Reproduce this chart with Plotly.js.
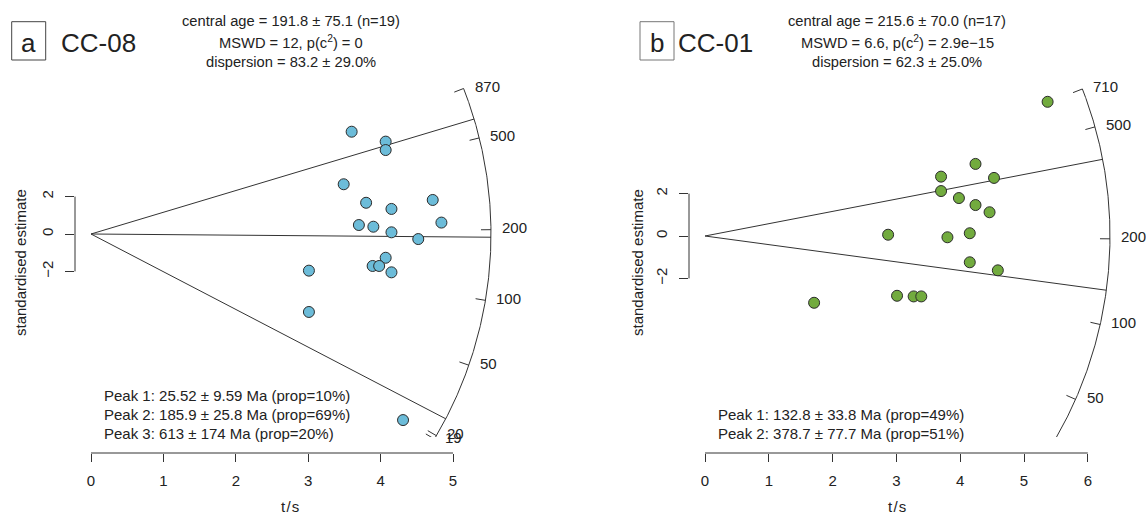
<!DOCTYPE html>
<html>
<head>
<meta charset="utf-8">
<script src="https://cdn.plot.ly/plotly-3.0.1.min.js"></script>
<style>
  html, body { margin: 0; padding: 0; background: #fff; }
  #plot { width: 1146px; height: 515px; }
</style>
</head>
<body>
<div id="plot"></div>
<script>
// ---------- CC-08 : radial plot coordinates of single-grain ages ----------
const ccA_ts = [3.60, 4.07, 4.07, 3.49, 3.80, 4.15, 4.72, 4.84, 3.70, 3.90,
                4.15, 4.52, 4.07, 3.89, 3.98, 4.15, 3.01, 3.01, 4.31];
const ccA_z  = [5.47, 4.94, 4.49, 2.66, 1.67, 1.34, 1.82, 0.61, 0.48, 0.39,
                0.09, -0.27, -1.27, -1.71, -1.71, -2.05, -1.96, -4.17, -9.95];
const ccA_scaleRefAge = 191.8;          // age of the horizontal ray
const ccA_peakAges = [25.52, 185.9, 613];
const ccA_scaleTicks = [20, 50, 100, 200, 500];
const ccA_scaleEnds = [19, 870];
const ccA_xTicks = [0, 1, 2, 3, 4, 5];
const ccA_stats = ['central age = 191.8 \u00b1 75.1 (n=19)',
                   'MSWD = 12, p(c<sup>2</sup>) = 0',
                   'dispersion = 83.2 \u00b1 29.0%'];
const ccA_peakText = ['Peak 1: 25.52 \u00b1 9.59 Ma (prop=10%)',
                      'Peak 2: 185.9 \u00b1 25.8 Ma (prop=69%)',
                      'Peak 3: 613 \u00b1 174 Ma (prop=20%)'];

// ---------- CC-01 ----------
const ccB_ts = [5.37, 4.24, 3.70, 4.53, 3.70, 3.98, 4.24, 4.46, 2.87, 3.80,
                4.15, 4.15, 4.59, 3.01, 3.27, 3.39, 1.71];
const ccB_z  = [6.33, 3.40, 2.80, 2.74, 2.12, 1.79, 1.46, 1.12, 0.06, -0.06,
                0.13, -1.24, -1.62, -2.82, -2.85, -2.85, -3.15];
const ccB_scaleRefAge = 204.5;
const ccB_peakAges = [132.8, 378.7];
const ccB_scaleTicks = [50, 100, 200, 500];
const ccB_scaleEnds = [32, 710];
const ccB_xTicks = [0, 1, 2, 3, 4, 5, 6];
const ccB_stats = ['central age = 215.6 \u00b1 70.0 (n=17)',
                   'MSWD = 6.6, p(c<sup>2</sup>) = 2.9e\u221215',
                   'dispersion = 62.3 \u00b1 25.0%'];
const ccB_peakText = ['Peak 1: 132.8 \u00b1 33.8 Ma (prop=49%)',
                      'Peak 2: 378.7 \u00b1 77.7 Ma (prop=51%)'];

const yTicks = [-2, 0, 2];
const yLabels = ['\u22122', '0', '2'];

// ---------- page geometry (pixels) ----------
const W = 1146, H = 515;
const FONT = 'Liberation Sans, Arial, Helvetica, sans-serif';
const INK = '#222';
const LINE = '#333';

const panels = [
  { key: 'a', name: 'CC-08', ts: ccA_ts, z: ccA_z, ref: ccA_scaleRefAge,
    peaks: ccA_peakAges, ticks: ccA_scaleTicks, ends: ccA_scaleEnds, endLabels: [true, true],
    xticks: ccA_xTicks, stats: ccA_stats, peakText: ccA_peakText,
    fill: '#6cbcd9', boxLine: '#444',
    ox: 91, oy: 234, sx: 72.4, sy: 18.7, k: 18.7 / 72.4, arc: 400,
    left: 75, right: 545, top: 78, clipBottom: 437, axisY: 453,
    box: [11.7, 21.7, 45.7, 60], nameX: 59, titleY: 43,
    statsX: 291, statsY: [21, 42, 62], peakX: 102, peakY: [395, 414, 433],
    xlabX: 290, ylabX: 20 },
  { key: 'b', name: 'CC-01', ts: ccB_ts, z: ccB_z, ref: ccB_scaleRefAge,
    peaks: ccB_peakAges, ticks: ccB_scaleTicks, ends: ccB_scaleEnds, endLabels: [false, true],
    xticks: ccB_xTicks, stats: ccB_stats, peakText: ccB_peakText,
    fill: '#72ab3e', boxLine: '#777',
    ox: 705, oy: 236, sx: 63.8, sy: 21.2, k: 0.313, arc: 405,
    left: 689, right: 1140, top: 78, clipBottom: 437, axisY: 453,
    box: [640, 21.7, 674, 60], nameX: 676, titleY: 43,
    statsX: 897, statsY: [21, 42, 62], peakX: 716, peakY: [414, 433],
    xlabX: 897, ylabX: 637 }
];

// screen angle of the ray through a given age
function rayAngle(p, age) {
  return Math.atan(p.k * Math.log(age / p.ref));
}
// point on (or off) the age scale arc, in data units
function arcPoint(p, age, rpx) {
  const phi = rayAngle(p, age);
  return [rpx * Math.cos(phi) / p.sx, rpx * Math.sin(phi) / p.sy];
}

const traces = [], shapes = [], annotations = [];
const layout = {
  width: W, height: H,
  margin: { l: 0, r: 0, t: 0, b: 0, pad: 0 },
  paper_bgcolor: '#fff', plot_bgcolor: 'rgba(0,0,0,0)',
  showlegend: false,
  font: { family: FONT, size: 15, color: INK }
};

panels.forEach((p, i) => {
  const xa = i === 0 ? 'x' : 'x2', ya = i === 0 ? 'y' : 'y2';
  const xName = i === 0 ? 'xaxis' : 'xaxis2', yName = i === 0 ? 'yaxis' : 'yaxis2';

  layout[xName] = {
    domain: [p.left / W, p.right / W],
    range: [(p.left - p.ox) / p.sx, (p.right - p.ox) / p.sx],
    anchor: 'free', position: (H - p.axisY) / H,
    showgrid: false, zeroline: false, showline: false,
    tickmode: 'array', tickvals: p.xticks, ticks: 'outside', ticklen: 8,
    tickwidth: 1, tickcolor: LINE, ticklabelstandoff: 6,
    tickfont: { family: FONT, size: 15, color: INK }, automargin: false
  };
  layout[yName] = {
    domain: [(H - p.clipBottom) / H, (H - p.top) / H],
    range: [(p.oy - p.clipBottom) / p.sy, (p.oy - p.top) / p.sy],
    anchor: xa,
    showgrid: false, zeroline: false, showline: false,
    tickmode: 'array', tickvals: yTicks, ticktext: yLabels, ticks: 'outside', ticklen: 9,
    tickwidth: 1, tickcolor: LINE, tickangle: -90, ticklabelstandoff: 6,
    tickfont: { family: FONT, size: 15, color: INK }, automargin: false
  };

  // axis lines spanning first..last tick
  shapes.push({ type: 'line', xref: xa, yref: 'paper',
    x0: p.xticks[0], x1: p.xticks[p.xticks.length - 1],
    y0: (H - p.axisY) / H, y1: (H - p.axisY) / H, line: { color: LINE, width: 1 } });
  shapes.push({ type: 'line', xref: 'paper', yref: ya,
    x0: p.left / W, x1: p.left / W, y0: yTicks[0], y1: yTicks[yTicks.length - 1],
    line: { color: LINE, width: 1 } });

  // age scale arc
  const ax = [], ay = [];
  const n = 300, l0 = Math.log(p.ends[0]), l1 = Math.log(p.ends[1]);
  for (let k = 0; k <= n; k++) {
    const pt = arcPoint(p, Math.exp(l0 + (l1 - l0) * k / n), p.arc);
    ax.push(pt[0]); ay.push(pt[1]);
  }
  traces.push({ type: 'scatter', mode: 'lines', x: ax, y: ay, xaxis: xa, yaxis: ya,
    line: { color: LINE, width: 1 }, hoverinfo: 'skip' });

  // scale ticks (pointing inward); arc ends carry a tick only when labelled
  const tAges = p.ticks.slice();
  p.ends.forEach((e, k) => { if (p.endLabels[k]) tAges.push(e); });
  const tx = [], ty = [];
  tAges.forEach(a => {
    const o = arcPoint(p, a, p.arc), q = arcPoint(p, a, p.arc - 10);
    tx.push(o[0], q[0], null); ty.push(o[1], q[1], null);
  });
  traces.push({ type: 'scatter', mode: 'lines', x: tx, y: ty, xaxis: xa, yaxis: ya,
    line: { color: LINE, width: 1 }, hoverinfo: 'skip' });

  // scale labels, set just to the right of each tick
  tAges.forEach(a => {
    const phi = rayAngle(p, a);
    const gx = p.ox + p.arc * Math.cos(phi) + 9;
    const gy = p.oy - p.arc * Math.sin(phi) - 2;
    annotations.push({ xref: 'paper', yref: 'paper', x: gx / W, y: 1 - gy / H,
      text: String(a), showarrow: false, xanchor: 'left', yanchor: 'middle',
      font: { family: FONT, size: 15, color: INK } });
  });

  // rays from the origin to each peak age
  const px = [], py = [];
  p.peaks.forEach(a => {
    const o = arcPoint(p, a, p.arc);
    px.push(0, o[0], null); py.push(0, o[1], null);
  });
  traces.push({ type: 'scatter', mode: 'lines', x: px, y: py, xaxis: xa, yaxis: ya,
    line: { color: LINE, width: 1 }, hoverinfo: 'skip' });

  // grains
  traces.push({ type: 'scatter', mode: 'markers', x: p.ts, y: p.z, xaxis: xa, yaxis: ya,
    cliponaxis: false,
    marker: { size: 11, color: p.fill, line: { color: '#2b2b2b', width: 1 } } });

  // panel letter box and sample name
  shapes.push({ type: 'rect', xref: 'paper', yref: 'paper',
    x0: p.box[0] / W, x1: p.box[2] / W, y0: 1 - p.box[3] / H, y1: 1 - p.box[1] / H,
    line: { color: p.boxLine, width: 1 } });
  annotations.push({ xref: 'paper', yref: 'paper', x: (p.box[0] + p.box[2]) / 2 / W,
    y: 1 - p.titleY / H, text: p.key, showarrow: false, xanchor: 'center', yanchor: 'middle',
    font: { family: FONT, size: 26, color: INK } });
  annotations.push({ xref: 'paper', yref: 'paper', x: p.nameX / W, y: 1 - p.titleY / H,
    text: p.name, showarrow: false, xanchor: 'left', yanchor: 'middle',
    font: { family: FONT, size: 26, color: INK } });

  // summary statistics
  p.stats.forEach((s, k) => annotations.push({ xref: 'paper', yref: 'paper',
    x: p.statsX / W, y: 1 - p.statsY[k] / H, text: s, showarrow: false,
    xanchor: 'center', yanchor: 'middle', font: { family: FONT, size: 14.7, color: INK } }));

  // mixture model peaks
  p.peakText.forEach((s, k) => annotations.push({ xref: 'paper', yref: 'paper',
    x: p.peakX / W, y: 1 - p.peakY[k] / H, text: s, showarrow: false,
    xanchor: 'left', yanchor: 'middle', font: { family: FONT, size: 15, color: INK } }));

  // axis titles
  annotations.push({ xref: 'paper', yref: 'paper', x: p.xlabX / W, y: 1 - 506 / H,
    text: 't\u200a/\u200as', showarrow: false, xanchor: 'center', yanchor: 'middle',
    font: { family: FONT, size: 15, color: INK } });
  annotations.push({ xref: 'paper', yref: 'paper', x: p.ylabX / W, y: 1 - 263 / H,
    text: 'standardised estimate', textangle: -90, showarrow: false,
    xanchor: 'center', yanchor: 'middle', font: { family: FONT, size: 15, color: INK } });
});

layout.shapes = shapes;
layout.annotations = annotations;

Plotly.newPlot('plot', traces, layout, { staticPlot: true, displayModeBar: false });
</script>
</body>
</html>
